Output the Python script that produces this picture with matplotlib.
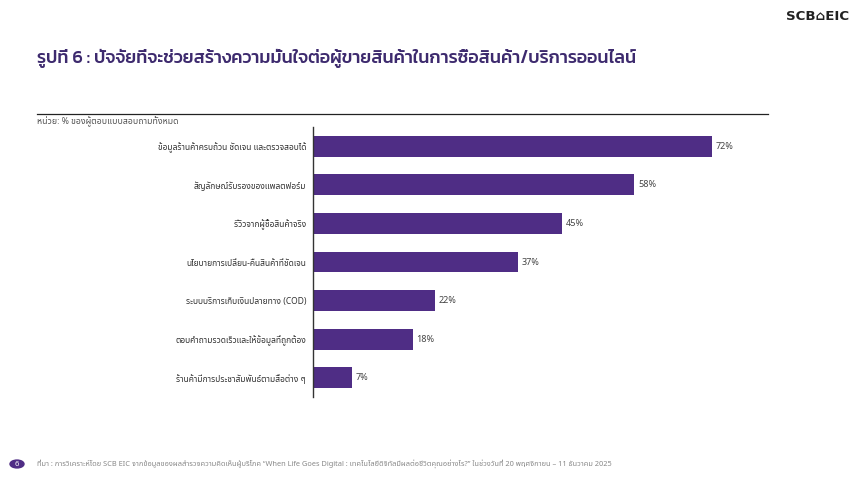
import matplotlib
matplotlib.use("Agg")
import matplotlib.pyplot as plt
from matplotlib.patches import Circle
from matplotlib import font_manager as fm

categories = [
    "ข้อมูลร้านค้าครบถ้วน ชัดเจน และตรวจสอบได้",
    "สัญลักษณ์รับรองของแพลตฟอร์ม",
    "รีวิวจากผู้ซื้อสินค้าจริง",
    "นโยบายการเปลี่ยน-คืนสินค้าที่ชัดเจน",
    "ระบบบริการเก็บเงินปลายทาง (COD)",
    "ตอบคำถามรวดเร็วและให้ข้อมูลที่ถูกต้อง",
    "ร้านค้ามีการประชาสัมพันธ์ตามสื่อต่าง ๆ",
]
values = [72, 58, 45, 37, 22, 18, 7]
value_labels = [f"{v}%" for v in values]

title = "รูปที่ 6 : ปัจจัยที่จะช่วยสร้างความมั่นใจต่อผู้ขายสินค้าในการซื้อสินค้า/บริการออนไลน์"
unit = "หน่วย: % ของผู้ตอบแบบสอบถามทั้งหมด"
source = ("ที่มา : การวิเคราะห์โดย SCB EIC จากข้อมูลของผลสำรวจความคิดเห็นผู้บริโภค \u201cWhen Life Goes Digital : "
          "เทคโนโลยีดิจิทัลมีผลต่อชีวิตคุณอย่างไร?\u201d ในช่วงวันที่ 20 พฤศจิกายน – 11 ธันวาคม 2025")

available = {f.name for f in fm.fontManager.ttflist}

def pick(prefs):
    out = [p for p in prefs if p in available]
    return out + ["DejaVu Sans"]

BODY = pick(["Noto Sans Thai", "Anuphan", "Sarabun", "Prompt", "Kanit", "Athiti", "Bai Jamjuree"])
TITLE = pick(["Kanit", "Prompt", "Noto Sans Thai", "Anuphan", "Bai Jamjuree"])
plt.rcParams["font.family"] = BODY

PURPLE = "#4f2d85"
TITLE_C = "#3d2a6e"

W, H = 860, 484
fig = plt.figure(figsize=(W / 100, H / 100), dpi=100)
fig.patch.set_facecolor("white")

def fx(px):
    return px / W

def fy(py):
    return 1 - py / H

x0 = 313
xmax = 80
ax_w = xmax * 5.54
top, bottom = 127, 397
ax = fig.add_axes([fx(x0), fy(bottom), ax_w / W, (bottom - top) / H])
n = len(categories)
ypos = list(range(n))
ax.barh(ypos, values, height=0.54, color=PURPLE, zorder=2)
ax.set_ylim(n - 0.5, -0.5)
ax.set_xlim(0, xmax)
for y, v, lab in zip(ypos, values, value_labels):
    ax.text(v + 0.7, y, lab, va="center", ha="left", fontsize=6.5, color="#444444")
ax.set_yticks(ypos)
ax.set_yticklabels(categories, fontsize=6.1, color="#333333")
ax.tick_params(axis="y", length=0, pad=5)
ax.set_xticks([])
for s in ["top", "right", "bottom"]:
    ax.spines[s].set_visible(False)
ax.spines["left"].set_color("#333333")
ax.spines["left"].set_linewidth(1.0)
ax.patch.set_alpha(0)

fig.text(fx(37), fy(58), title, fontsize=13, color=TITLE_C, va="center", ha="left",
         fontweight="medium", family=TITLE)
fig.add_artist(plt.Line2D([fx(37), fx(768)], [fy(114), fy(114)], color="#222222", lw=0.9))
fig.text(fx(37), fy(122), unit, fontsize=6.3, color="#555555", va="center", ha="left")

fig.text(fx(849), fy(17), "SCB\u2302EIC", fontsize=9.6, fontweight="bold", color="#222222",
         va="center", ha="right", family=["DejaVu Sans"])

fig.add_artist(Circle((fx(17), fy(464)), 7 / W, transform=fig.transFigure, color=PURPLE))
fig.text(fx(17), fy(464), "6", fontsize=5.5, color="white", va="center", ha="center")
fig.text(fx(37), fy(464), source, fontsize=5.35, color="#888888", va="center", ha="left")

fig.savefig("out.png", dpi=100)
